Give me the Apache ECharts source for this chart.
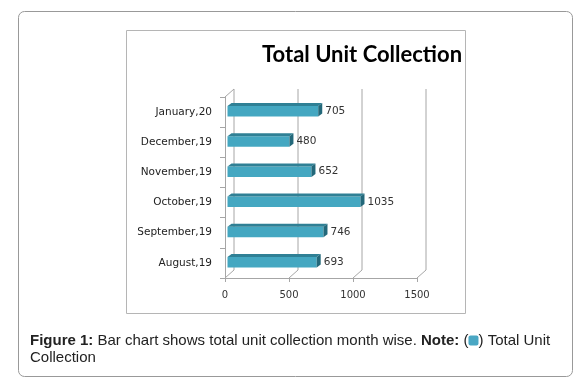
<!DOCTYPE html>
<html>
<head>
<meta charset="utf-8">
<script src="https://cdn.jsdelivr.net/npm/echarts@6/dist/echarts.min.js"></script>
<style>
  html, body { margin: 0; padding: 0; background: #fff; }
  #chart { width: 581px; height: 386px; }
</style>
</head>
<body>
<div id="chart"></div>
<script>
  // data
  var months = ['August,19', 'September,19', 'October,19', 'November,19', 'December,19', 'January,20'];
  var units = [693, 746, 1035, 652, 480, 705];
  var xTicks = [0, 500, 1000, 1500];

  var DX = 9, DY = -8; // depth of the fake 3d box
  var wallColor = '#a6a6a6';

  var chart = echarts.init(document.getElementById('chart'));

  function renderWalls(params, api) {
    var v = api.value(0);
    var cs = params.coordSys;
    var x = api.coord([v, 0])[0];
    var top = cs.y, bottom = cs.y + cs.height;
    var style = { stroke: wallColor, lineWidth: 1 };
    var kids = [
      { type: 'line', shape: { x1: x + DX, y1: top + DY, x2: x + DX, y2: bottom + DY }, style: style },
      { type: 'line', shape: { x1: x, y1: bottom, x2: x + DX, y2: bottom + DY }, style: style }
    ];
    if (v === 0) {
      kids.push({ type: 'line', shape: { x1: x, y1: top, x2: x + DX, y2: top + DY }, style: style });
    }
    return { type: 'group', children: kids };
  }

  function renderBar(params, api) {
    var val = api.value(0), idx = api.value(1);
    var c0 = api.coord([0, idx]);
    var c1 = api.coord([val, idx]);
    var h = 10.5, d = 4, e = 3;
    var x0 = c0[0] + 2.5, x1 = c1[0] + 3;
    var ft = c0[1] - 6;
    return {
      type: 'group',
      children: [
        { type: 'rect', shape: { x: x0, y: ft, width: x1 - x0, height: h },
          style: { fill: '#44a7c1' } },
        { type: 'polygon', shape: { points: [[x0, ft], [x1, ft], [x1 + d, ft - e], [x0 + d, ft - e]] },
          style: { fill: '#2f8095' } },
        { type: 'polygon', shape: { points: [[x1, ft], [x1 + d, ft - e], [x1 + d, ft - e + h], [x1, ft + h]] },
          style: { fill: '#23687a' } },
        { type: 'text', x: x1 + d + 3, y: ft + h / 2,
          style: { text: String(val), fill: '#333', font: '10.5px "DejaVu Sans"', verticalAlign: 'middle', align: 'left' } }
      ]
    };
  }

  chart.setOption({
    animation: false,
    graphic: [
      { type: 'rect', shape: { x: 18.5, y: 11.5, width: 554, height: 365, r: 6 },
        style: { fill: 'none', stroke: '#999', lineWidth: 1 } },
      { type: 'rect', shape: { x: 126.5, y: 30.5, width: 339, height: 283 },
        style: { fill: 'none', stroke: '#b5b5b5', lineWidth: 1 } },
      { type: 'text', x: 262, y: 44,
        style: { text: 'Total Unit Collection', fontFamily: 'Lato', fontWeight: 'bold', fontSize: 22, fill: '#000' } },
      { type: 'text', x: 30, y: 332,
        style: {
          text: '{b|Figure 1:} Bar chart shows total unit collection month wise. {b|Note:} ({box| }) Total Unit\nCollection',
          fontFamily: 'Liberation Sans', fontSize: 15, fill: '#222', lineHeight: 17,
          rich: {
            b: { fontWeight: 'bold', fontFamily: 'Liberation Sans', fontSize: 15, fill: '#222', lineHeight: 17 },
            box: { backgroundColor: '#4aa7c4', width: 10, height: 10, borderRadius: 2 }
          }
        } }
    ],
    grid: { left: 225, top: 97, width: 192, height: 181 },
    xAxis: {
      type: 'value', min: 0, max: 1500, interval: 500,
      axisLine: { show: true, lineStyle: { color: wallColor } },
      axisTick: { show: true, length: 4, lineStyle: { color: wallColor } },
      splitLine: { show: false },
      axisLabel: { margin: 12, fontFamily: 'DejaVu Sans', fontSize: 10, color: '#333',
        formatter: function (v) { return String(v); } }
    },
    yAxis: {
      type: 'category', data: months,
      axisLine: { show: true, lineStyle: { color: wallColor } },
      axisTick: { show: true, length: 5, lineStyle: { color: wallColor } },
      axisLabel: { margin: 13, fontFamily: 'DejaVu Sans', fontSize: 10.5, color: '#222' }
    },
    series: [
      { type: 'custom', renderItem: renderWalls, data: xTicks.map(function (v) { return [v, 0]; }), silent: true, z: 1 },
      { type: 'custom', renderItem: renderBar, data: units.map(function (v, i) { return [v, i]; }), z: 2 }
    ]
  });
</script>
</body>
</html>
